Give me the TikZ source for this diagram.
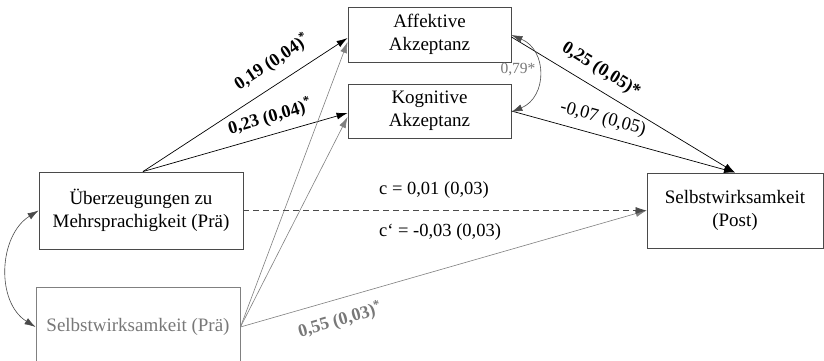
\documentclass[tikz,border=0pt]{standalone}
\usepackage{fontspec}
\setmainfont{Liberation Serif}
\usetikzlibrary{arrows.meta,calc}
\definecolor{boxc}{HTML}{4A4A4A}
\definecolor{greyc}{HTML}{808080}
\definecolor{greyt}{HTML}{787878}
\tikzset{
  tip/.tip={Latex[length=11pt,width=7pt]},
  box/.style={draw=boxc, line width=0.9pt, rectangle, align=center, inner sep=0pt,
    font=\fontsize{19}{23}\selectfont},
  arr/.style={line width=0.7pt, -tip},
  garr/.style={line width=0.6pt, draw=greyc, -tip, color=greyc},
  lbl/.style={font=\fontsize{18.5}{20}\selectfont, inner sep=0pt},
  blbl/.style={font=\fontsize{18}{20}\selectfont\bfseries, inner sep=0pt},
}
\begin{document}
\begin{tikzpicture}[x=1pt,y=-1pt]
\useasboundingbox (0,0) rectangle (824,361);
\fill[white] (0,0) rectangle (824,361);
\node[box, minimum width=163pt, minimum height=55pt] (a) at (429.5,34.5) {Affektive\\Akzeptanz};
\node[box, minimum width=163pt, minimum height=54pt] (k) at (429.5,111) {Kognitive\\Akzeptanz};
\node[box, minimum width=204pt, minimum height=77pt] (u) at (141,210.5) {Überzeugungen zu\\Mehrsprachigkeit (Prä)};
\node[box, draw=greyc, text=greyt, minimum width=204pt, minimum height=80pt] (p) at (138,327) {Selbstwirksamkeit (Prä)};
\node[box, minimum width=176pt, minimum height=75pt] (s) at (735,210.5) {Selbstwirksamkeit\\(Post)};

% paths from Überzeugungen
\draw[arr] ([xshift=2pt]u.north) -- ([yshift=-3.5pt]a.west);
\draw[arr] ([xshift=2pt]u.north) -- ([yshift=-2pt]k.west);
% paths from Prä
\draw[garr] (p.east) -- ([yshift=-7.5pt]a.west);
\draw[garr] (p.east) -- ([yshift=-6pt]k.west);
\draw[garr] (p.east) -- (s.west);
% direct effect
\draw[line width=0.7pt, draw=boxc, dash pattern=on 6pt off 4pt, -tip, color=boxc] (u.east) -- (s.west);
% mediators to outcome
\draw[arr] ([yshift=-2.5pt]a.east) -- (s.north);
\draw[arr] (k.east) -- (s.north);
% covariances
\draw[line width=0.6pt, color=boxc, tip-tip]
  ([yshift=-0.5pt]a.east) .. controls +(36,15) and +(36,-15) .. ([yshift=-1pt]k.east);
\draw[line width=0.6pt, color=boxc, tip-tip]
  (u.west) .. controls +(-40,25) and +(-40,-25) .. (p.west);

% labels
\node[blbl, rotate=33.6] (l1) at (272,62) {0,19 (0,04)\textsuperscript{*}};
\node[blbl, rotate=16.3] (l2) at (270,117) {0,23 (0,04)\textsuperscript{*}};
\node[blbl, rotate=-31.8] (l3) at (601,70) {0,25 (0,05)*};
\node[lbl, rotate=-15.5] (l4) at (603,119) {-0,07 (0,05)};
\node[lbl, text=greyt, font=\fontsize{15.5}{17}\selectfont] (l5) at (518,70) {0,79*};
\node[lbl] (l6) at (434,190) {c = 0,01 (0,03)};
\node[lbl] (l7) at (440,232) {c‘ = -0,03 (0,03)};
\node[blbl, text=greyt, rotate=16] (l8) at (340,320) {0,55 (0,03)\textsuperscript{*}};
\end{tikzpicture}
\end{document}
